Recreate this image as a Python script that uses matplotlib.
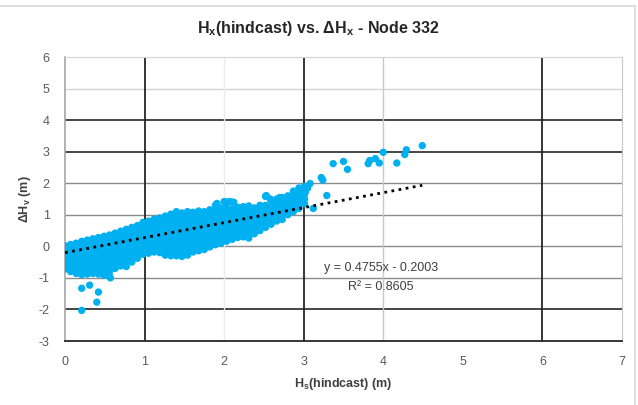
import matplotlib
matplotlib.use("Agg")
import matplotlib.pyplot as plt
from matplotlib.lines import Line2D

plt.rcParams["font.family"] = ["Liberation Sans", "DejaVu Sans"]
plt.rcParams["mathtext.fontset"] = "custom"
plt.rcParams["mathtext.rm"] = "Liberation Sans:bold"
plt.rcParams["mathtext.it"] = "Liberation Sans:bold"
plt.rcParams["mathtext.bf"] = "Liberation Sans:bold"
plt.rcParams["mathtext.default"] = "rm"
plt.rcParams["axes.unicode_minus"] = False

# Dense part of the cloud: one column of dH values per Hs value
col_hs = [0.00, 0.07, 0.14, 0.21, 0.28, 0.35, 0.42, 0.49, 0.56, 0.63,
          0.70, 0.77, 0.84, 0.91, 0.98, 1.05, 1.12, 1.19, 1.26, 1.33,
          1.40, 1.47, 1.54, 1.61, 1.68, 1.75, 1.82, 1.89, 1.96, 2.03,
          2.10, 2.17, 2.24, 2.31, 2.38, 2.45, 2.52, 2.59, 2.66, 2.73,
          2.80, 2.87, 2.94, 3.01]
col_dh = [
    [-0.72, -0.58, -0.44, -0.30, -0.16, -0.02, 0.02],
    [-0.80, -0.66, -0.52, -0.38, -0.24, -0.10, 0.06],
    [-0.86, -0.72, -0.58, -0.44, -0.30, -0.16, -0.02, 0.10],
    [-0.90, -0.76, -0.62, -0.48, -0.34, -0.20, -0.06, 0.08, 0.16],
    [-0.88, -0.74, -0.60, -0.46, -0.32, -0.18, -0.04, 0.10, 0.20],
    [-0.86, -0.72, -0.58, -0.44, -0.30, -0.16, -0.02, 0.12, 0.24],
    [-0.88, -0.74, -0.60, -0.46, -0.32, -0.18, -0.04, 0.10, 0.22, 0.28],
    [-0.92, -0.78, -0.64, -0.50, -0.36, -0.22, -0.08, 0.06, 0.20, 0.32],
    [-0.95, -0.80, -0.66, -0.52, -0.38, -0.24, -0.10, 0.04, 0.18, 0.30, 0.36],
    [-0.70, -0.56, -0.42, -0.28, -0.14, 0.00, 0.14, 0.28, 0.42],
    [-0.62, -0.48, -0.34, -0.20, -0.06, 0.08, 0.22, 0.36, 0.48],
    [-0.64, -0.50, -0.36, -0.22, -0.08, 0.06, 0.20, 0.34, 0.46, 0.54],
    [-0.50, -0.36, -0.22, -0.08, 0.06, 0.20, 0.34, 0.48, 0.60],
    [-0.38, -0.24, -0.10, 0.04, 0.18, 0.32, 0.46, 0.58, 0.66],
    [-0.25, -0.11, 0.03, 0.17, 0.31, 0.45, 0.59, 0.70, 0.76],
    [-0.22, -0.08, 0.06, 0.20, 0.34, 0.48, 0.62, 0.74, 0.80],
    [-0.18, -0.04, 0.10, 0.24, 0.38, 0.52, 0.66, 0.78, 0.86],
    [-0.20, -0.06, 0.08, 0.22, 0.36, 0.50, 0.64, 0.78, 0.90],
    [-0.28, -0.14, 0.00, 0.14, 0.28, 0.42, 0.56, 0.70, 0.84, 0.96],
    [-0.30, -0.16, -0.02, 0.12, 0.26, 0.40, 0.54, 0.68, 0.82, 0.94, 1.02],
    [-0.30, -0.16, -0.02, 0.12, 0.26, 0.40, 0.54, 0.68, 0.82, 0.96, 1.10],
    [-0.32, -0.18, -0.04, 0.10, 0.24, 0.38, 0.52, 0.66, 0.80, 0.94, 1.06],
    [-0.28, -0.14, 0.00, 0.14, 0.28, 0.42, 0.56, 0.70, 0.84, 0.98, 1.10],
    [-0.18, -0.04, 0.10, 0.24, 0.38, 0.52, 0.66, 0.80, 0.94, 1.08],
    [-0.14, 0.00, 0.14, 0.28, 0.42, 0.56, 0.70, 0.84, 0.98, 1.12],
    [-0.10, 0.04, 0.18, 0.32, 0.46, 0.60, 0.74, 0.88, 1.00, 1.10],
    [-0.02, 0.12, 0.26, 0.40, 0.54, 0.68, 0.82, 0.96, 1.08, 1.16],
    [0.05, 0.19, 0.33, 0.47, 0.61, 0.75, 0.89, 1.03, 1.15, 1.30],
    [0.10, 0.24, 0.38, 0.52, 0.66, 0.80, 0.94, 1.08, 1.22],
    [0.16, 0.30, 0.44, 0.58, 0.72, 0.86, 1.00, 1.14, 1.24, 1.40],
    [0.22, 0.36, 0.50, 0.64, 0.78, 0.92, 1.06, 1.18, 1.40],
    [0.28, 0.42, 0.56, 0.70, 0.84, 0.98, 1.12, 1.24],
    [0.30, 0.44, 0.58, 0.72, 0.86, 1.00, 1.14, 1.26],
    [0.26, 0.40, 0.54, 0.68, 0.82, 0.96, 1.10, 1.22, 1.28],
    [0.40, 0.54, 0.68, 0.82, 0.96, 1.10, 1.22],
    [0.50, 0.64, 0.78, 0.92, 1.06, 1.20, 1.30],
    [0.60, 0.74, 0.88, 1.02, 1.16, 1.30, 1.58],
    [0.70, 0.84, 0.98, 1.12, 1.26, 1.45],
    [0.80, 0.94, 1.08, 1.22, 1.36, 1.50],
    [0.85, 0.99, 1.13, 1.27, 1.41, 1.55],
    [1.00, 1.14, 1.28, 1.42, 1.60],
    [1.10, 1.24, 1.38, 1.52, 1.66, 1.75],
    [1.20, 1.34, 1.48, 1.62, 1.85],
    [1.35, 1.50, 1.65, 1.90],
]

# Isolated points away from the dense band
sparse_hs = [0.21, 0.31, 0.42, 0.40, 0.21, 0.57, 1.91, 2.00, 2.07, 2.12,
             2.53, 2.58, 2.70, 2.74, 2.95, 3.08, 3.12, 3.22, 3.24, 3.29,
             3.37, 3.50, 3.55, 3.81, 3.83, 3.90, 3.95, 4.00, 4.17, 4.27,
             4.29, 4.49, 3.02, 3.05, 2.98]
sparse_dh = [-1.33, -1.23, -1.45, -1.77, -2.03, -1.00, 1.36, 1.42, 1.42, 1.40,
             1.61, 1.50, 1.55, 1.40, 1.77, 1.99, 1.20, 2.18, 2.10, 1.61,
             2.62, 2.69, 2.44, 2.62, 2.72, 2.78, 2.64, 2.98, 2.64, 2.91,
             3.06, 3.19, 1.72, 1.85, 1.55]

# Linear trend as reported on the chart
slope = 0.4755
intercept = -0.2003
r_squared = 0.8605

x_ticks = [0, 1, 2, 3, 4, 5, 6, 7]
y_ticks = [-3, -2, -1, 0, 1, 2, 3, 4, 5, 6]

hs_all = []
dh_all = []
for hs, dhs in zip(col_hs, col_dh):
    for d in dhs:
        hs_all.append(hs)
        dh_all.append(d)
hs_all += sparse_hs
dh_all += sparse_dh

W, H = 638, 405
fig = plt.figure(figsize=(W / 100, H / 100), dpi=100)
ax = fig.add_axes([65 / W, 1 - 341 / H, (622 - 65) / W, (341 - 57) / H])

ax.set_xlim(0, 7)
ax.set_ylim(-3, 6)

# Gridlines with mixed emphasis
grid_dark = "#262626"
grid_mid = "#8c8c8c"
for yv, c in [(4, grid_dark), (3, grid_dark), (-2, grid_dark),
              (2, grid_mid), (1, grid_mid), (0, grid_mid), (-1, grid_mid),
              (5, "#d4d4d4")]:
    ax.axhline(yv, color=c, lw=1.2 if c == grid_dark else 1.0, zorder=1)
for xv, c in [(1, grid_dark), (3, grid_dark), (6, grid_dark),
              (4, "#c8c8c8"), (2, "#ececec")]:
    ax.axvline(xv, color=c, lw=1.3 if c == grid_dark else 1.0, zorder=1)

ax.scatter(hs_all, dh_all, s=28, color="#00B0F0", edgecolors="none", zorder=3)

x_end = max(hs_all)
ax.plot([0, x_end], [intercept, slope * x_end + intercept], color="black",
        lw=2.0, linestyle=(0, (1, 1.6)), zorder=4)

ax.text(3.97, -0.7, f"y = {slope:.4f}x - {abs(intercept):.4f}", ha="center",
        va="center", fontsize=9, color="#404040", zorder=5)
ax.text(3.97, -1.3, f"R² = {r_squared:.4f}", ha="center", va="center",
        fontsize=9, color="#404040", zorder=5)

ax.set_xticks(x_ticks)
ax.set_yticks(y_ticks)
ax.tick_params(length=0, labelsize=9, labelcolor="#595959", pad=11)

for side, c in [("top", "#d4d4d4"), ("right", "#c8c8c8"),
                ("left", "#a6a6a6"), ("bottom", "#262626")]:
    ax.spines[side].set_color(c)
ax.spines["bottom"].set_linewidth(1.3)
ax.spines["left"].set_linewidth(1.2)

fig.text(318 / W, 1 - 28 / H, r"H$_\mathrm{x}$(hindcast) vs. ΔH$_\mathrm{x}$ - Node 332",
         ha="center", va="center", fontsize=11.5, fontweight="bold", color="#262626")
fig.text(343 / W, 1 - 384 / H, r"H$_\mathrm{s}$(hindcast) (m)", ha="center",
         va="center", fontsize=9, fontweight="bold", color="#404040")
fig.text(25 / W, 1 - 199 / H, r"ΔH$_\mathrm{v}$ (m)", ha="center", va="center",
         rotation=90, fontsize=9, fontweight="bold", color="#404040")

# Chart-area frame
fig.add_artist(Line2D([0, 1 - 3 / W], [1 - 6 / H, 1 - 6 / H],
                      transform=fig.transFigure, color="#d9d9d9", lw=1.2))
fig.add_artist(Line2D([1 - 3 / W, 1 - 3 / W], [0, 1 - 6 / H],
                      transform=fig.transFigure, color="#d9d9d9", lw=1.2))

fig.savefig("out.png", dpi=100)
